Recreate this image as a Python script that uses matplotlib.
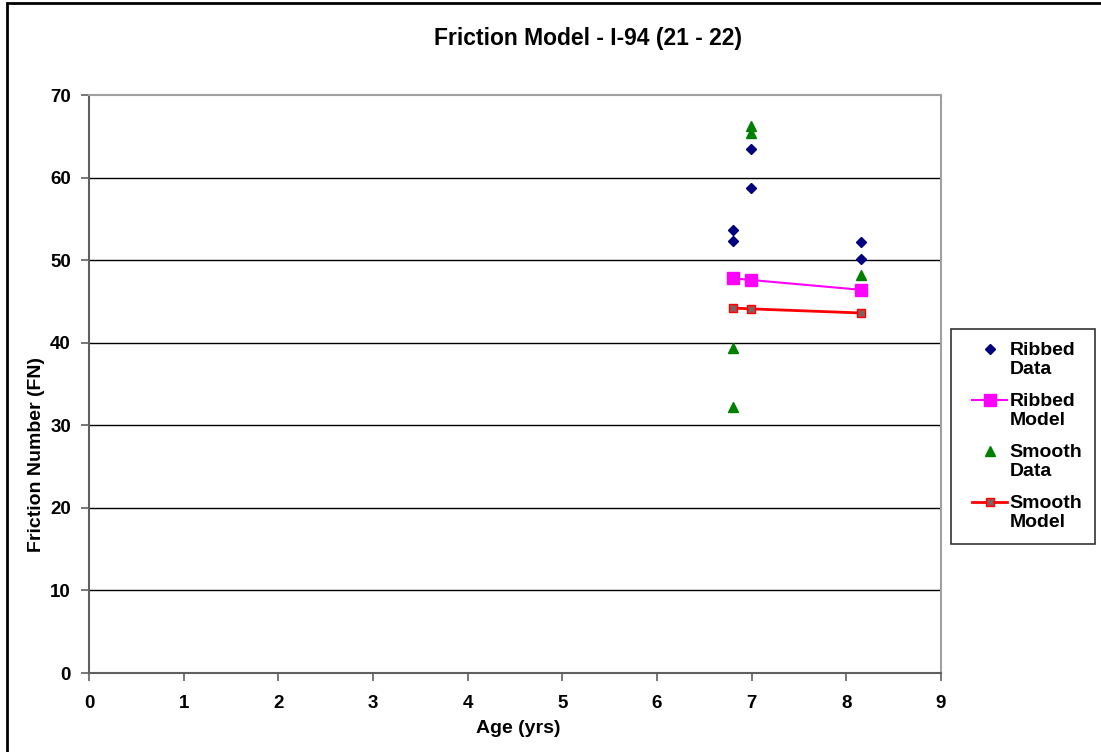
import matplotlib
matplotlib.use("Agg")
import matplotlib.pyplot as plt
from matplotlib.patches import Rectangle
from matplotlib.legend_handler import HandlerTuple, HandlerLine2D

plt.rcParams['font.family'] = ['Liberation Sans', 'DejaVu Sans']
plt.rcParams['font.weight'] = 'bold'

# Data
ribbed_data_x = [6.80, 6.80, 6.99, 6.99, 8.16, 8.16]
ribbed_data_y = [53.7, 52.3, 63.5, 58.7, 52.2, 50.1]
smooth_data_x = [6.80, 6.80, 6.99, 6.99, 8.16]
smooth_data_y = [39.3, 32.2, 66.3, 65.4, 48.2]
model_x = [6.80, 6.99, 8.16]
ribbed_model_y = [47.8, 47.6, 46.4]
smooth_model_y = [44.2, 44.1, 43.6]

xticks = list(range(0, 10))
yticks = list(range(0, 80, 10))
legend_labels = ['Ribbed\nData', 'Ribbed\nModel', 'Smooth\nData', 'Smooth\nModel']


class ShiftedLine(HandlerLine2D):
    def __init__(self, shift=14, xshift=10, **kw):
        super().__init__(**kw)
        self.shift = shift
        self.xshift = xshift

    def create_artists(self, legend, orig_handle, xdescent, ydescent, width,
                       height, fontsize, trans):
        return super().create_artists(legend, orig_handle,
                                      xdescent - self.xshift,
                                      ydescent - self.shift,
                                      width - self.xshift, height,
                                      fontsize, trans)


fig = plt.figure(figsize=(11.01, 7.52), dpi=100)
ax = fig.add_axes([89/1101, 79/752, (941-89)/1101, (673-95)/752])

ax.set_xlim(0, 9)
ax.set_ylim(0, 70)
ax.set_xticks(xticks)
ax.set_yticks(yticks)
ax.set_xticklabels([str(t) for t in xticks], fontsize=13.5, fontweight='bold')
ax.set_yticklabels([str(t) for t in yticks], fontsize=13.5, fontweight='bold')
ax.tick_params(axis='both', direction='out', length=6, width=1.2, color='#606060')
ax.tick_params(axis='x', pad=10)
ax.tick_params(axis='y', pad=7)

for y in yticks[1:7]:
    ax.axhline(y, color='black', lw=1.0, zorder=1)

for s in ['top', 'right']:
    ax.spines[s].set_color('#a0a0a0')
    ax.spines[s].set_linewidth(1.5)
for s in ['left', 'bottom']:
    ax.spines[s].set_color('#606060')
    ax.spines[s].set_linewidth(1.5)

h1, = ax.plot(ribbed_data_x, ribbed_data_y, linestyle='none', marker='D', markersize=5,
              color='#000080', zorder=5)
h2, = ax.plot(model_x, ribbed_model_y, color='#ff00ff', lw=1.5, marker='s', markersize=8,
              zorder=4)
h3, = ax.plot(smooth_data_x, smooth_data_y, linestyle='none', marker='^', markersize=7,
              color='#008000', zorder=5)
h4, = ax.plot(model_x, smooth_model_y, color='#ff0000', lw=2, marker='s', markersize=6,
              markerfacecolor='#e03030', markeredgecolor='#ff0000', zorder=4)
h4x, = ax.plot(model_x, smooth_model_y, linestyle='none', marker='x', markersize=5,
               color='#507878', markeredgewidth=1.0, zorder=6)

ax.set_xlabel('Age (yrs)', fontsize=14, fontweight='bold')
ax.set_ylabel('Friction Number (FN)', fontsize=14, fontweight='bold')
ax.xaxis.set_label_coords((518-89)/852, (673-720)/578)
ax.yaxis.set_label_coords((45-89)/852, (673-455)/578)

fig.text(588/1101, 1 - 38/752, 'Friction Model - I-94 (21 - 22)', fontsize=16.5,
         fontweight='bold', ha='center', va='center')

sh = ShiftedLine(shift=15, xshift=6)
leg = fig.legend([h1, h2, h3, (h4, h4x)], legend_labels,
                 handler_map={h1: sh, h2: sh, h3: sh, h4: sh, h4x: sh,
                              tuple: HandlerTuple(ndivide=1)},
                 loc='upper left', bbox_to_anchor=(951/1101, 1 - 329/752),
                 borderaxespad=0, frameon=True, fancybox=False, edgecolor='black',
                 borderpad=0.65, labelspacing=0.74, handlelength=2.25, handletextpad=0.1,
                 prop={'weight': 'bold', 'size': 14})
leg.get_frame().set_linewidth(1.2)

fig.patches.append(Rectangle((7/1101, -0.1), 1.2, 1 - 3/752 + 0.1, transform=fig.transFigure,
                             fill=False, edgecolor='black', lw=2))

fig.savefig('out.png', dpi=100)
